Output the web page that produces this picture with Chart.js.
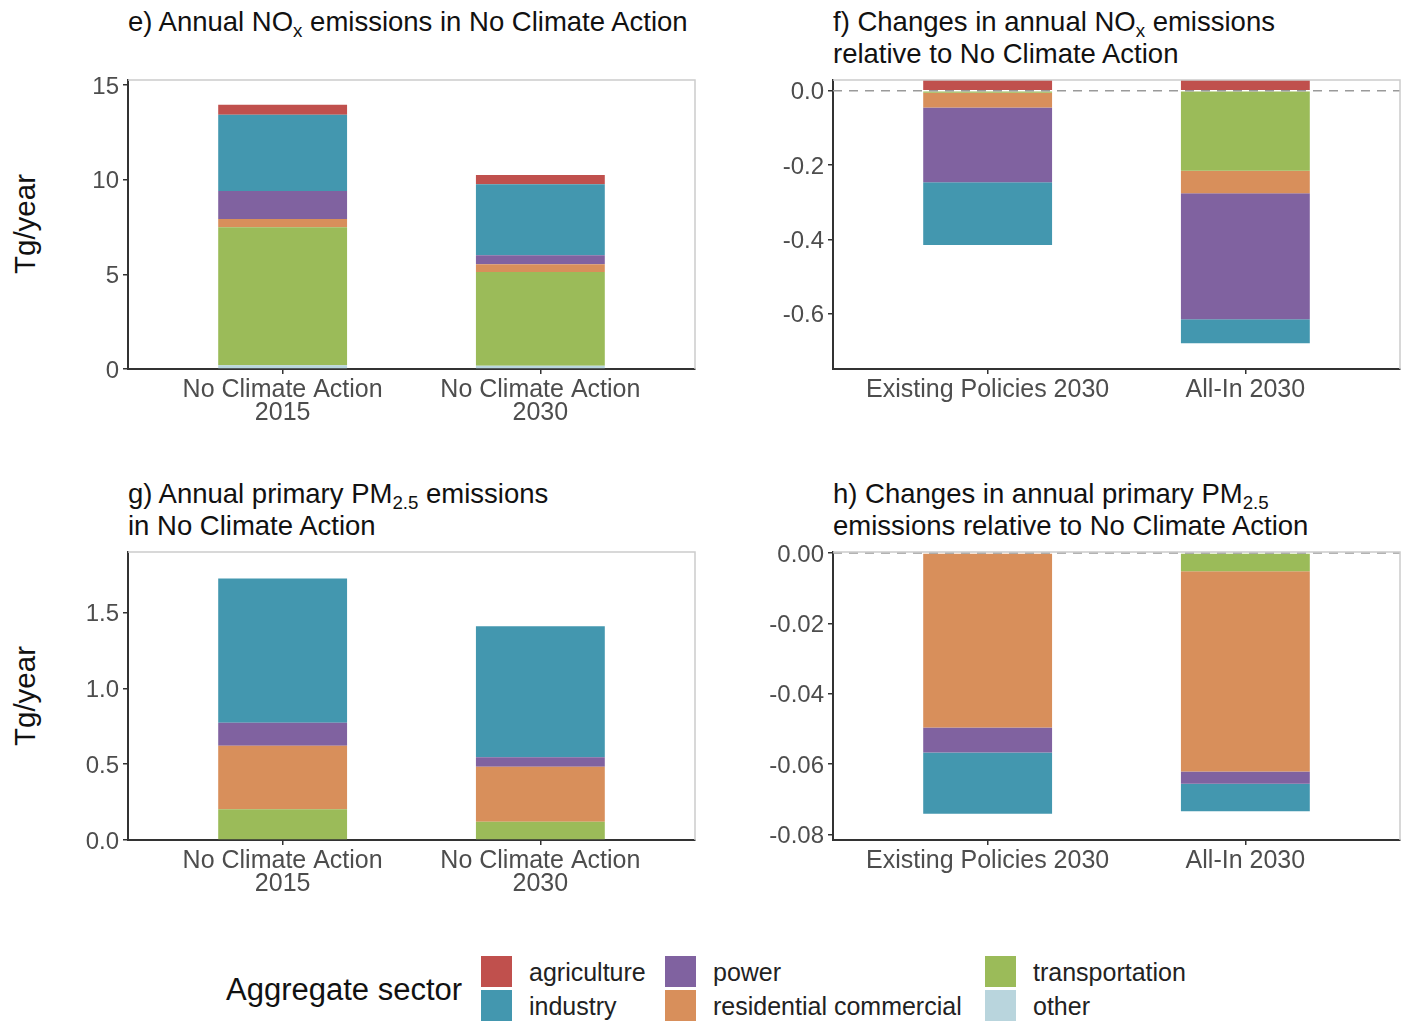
<!DOCTYPE html>
<html>
<head>
<meta charset="utf-8">
<script src="https://cdn.jsdelivr.net/npm/chart.js@4.4.1/dist/chart.umd.min.js"></script>
<style>
  body { margin: 0; background: #fff; font-family: "Liberation Sans", Arial, sans-serif; }
  #page { position: relative; width: 1405px; height: 1021px; overflow: hidden; background: #fff; }
  #page canvas { position: absolute; }
  .title { position: absolute; font-size: 27.5px; line-height: 32px; color: #111; white-space: nowrap; }
  .title sub { font-size: 0.68em; vertical-align: -0.3em; line-height: 0; }
  .ylab { position: absolute; font-size: 29.5px; color: #111; white-space: nowrap;
          transform: translate(-50%, -50%) rotate(-90deg); }
  .ltitle { position: absolute; left: 226px; top: 990px; font-size: 31px; color: #111;
            transform: translateY(-50%); white-space: nowrap; }
  .lkey { position: absolute; width: 31px; height: 31px; }
  .llab { position: absolute; font-size: 25px; color: #222; transform: translateY(-50%); white-space: nowrap; }
</style>
</head>
<body>
<div id="page">
  <div class="title" style="left:128px; top:6px;">e) Annual NO<sub>x</sub> emissions in No Climate Action</div>
  <div class="title" style="left:833px; top:6px;">f) Changes in annual NO<sub>x</sub> emissions<br>relative to No Climate Action</div>
  <div class="title" style="left:128px; top:478px;">g) Annual primary PM<sub>2.5</sub> emissions<br>in No Climate Action</div>
  <div class="title" style="left:833px; top:478px;">h) Changes in annual primary PM<sub>2.5</sub><br>emissions relative to No Climate Action</div>
  <div class="ylab" style="left:25px; top:224px;">Tg/year</div>
  <div class="ylab" style="left:25px; top:696px;">Tg/year</div>

  <canvas id="noxLevel" width="645" height="370" style="left:60px; top:70px;"></canvas>
  <canvas id="noxChange" width="645" height="370" style="left:765px; top:70px;"></canvas>
  <canvas id="pmLevel" width="645" height="370" style="left:60px; top:542px;"></canvas>
  <canvas id="pmChange" width="645" height="370" style="left:765px; top:542px;"></canvas>

  <div class="ltitle">Aggregate sector</div>
  <div id="legend"></div>
</div>

<script>
const sectors = ['agriculture', 'industry', 'power', 'residential commercial', 'transportation', 'other'];
const sectorColors = ['#c0504d', '#4397af', '#8062a0', '#d88f5b', '#9bbb59', '#b9d5dd'];

const levelScenarios = [['No Climate Action', '2015'], ['No Climate Action', '2030']];
const changeScenarios = ['Existing Policies 2030', 'All-In 2030'];

// values per bar, in sector order (Tg/year)
const noxLevel2015 = [0.53, 4.02, 1.48, 0.44, 7.28, 0.20];
const noxLevel2030 = [0.49, 3.76, 0.47, 0.41, 4.95, 0.17];
const noxChangeExisting = [0.029, -0.169, -0.201, -0.040, -0.005, 0];
const noxChangeAllIn = [0.029, -0.065, -0.339, -0.061, -0.215, 0];
const pmLevel2015 = [0, 0.951, 0.152, 0.419, 0.202, 0];
const pmLevel2030 = [0, 0.865, 0.062, 0.362, 0.121, 0];
const pmChangeExisting = [0, -0.0174, -0.0071, -0.0496, 0, 0];
const pmChangeAllIn = [0, -0.0078, -0.0035, -0.0569, -0.0052, 0];

const noxLevelTicks = [0, 5, 10, 15];
const noxChangeTicks = [0, -0.2, -0.4, -0.6];
const pmLevelTicks = [0, 0.5, 1.0, 1.5];
const pmChangeTicks = [0, -0.02, -0.04, -0.06, -0.08];

const axisColor = '#333333';
const tickText = '#4d4d4d';

// light frame on top/right plus the dashed zero reference
const panelFrame = {
  id: 'panelFrame',
  afterDatasetsDraw(chart, args, opts) {
    const { ctx, chartArea: a } = chart;
    ctx.save();
    if (opts.zeroLine) {
      const y0 = chart.scales.y.getPixelForValue(0);
      ctx.strokeStyle = '#9a9a9a';
      ctx.lineWidth = 1.5;
      ctx.setLineDash([9, 7]);
      ctx.beginPath();
      ctx.moveTo(a.left, y0);
      ctx.lineTo(a.right, y0);
      ctx.stroke();
      ctx.setLineDash([]);
    }
    ctx.strokeStyle = '#cccccc';
    ctx.lineWidth = 1.5;
    ctx.beginPath();
    ctx.moveTo(a.left, a.top);
    ctx.lineTo(a.right, a.top);
    ctx.lineTo(a.right, a.bottom);
    ctx.stroke();
    ctx.restore();
  }
};

function stackedPanel(id, scenarios, bars, yTicks, yMin, yMax, digits, zeroLine, xHeight) {
  // 'other' goes first so it sits next to zero, agriculture ends up outermost
  const order = sectors.map((s, i) => i).reverse();
  const datasets = order.map(i => ({
    label: sectors[i],
    data: bars.map((bar, j) => ({ x: j + 1, y: bar[i] })),
    backgroundColor: sectorColors[i],
    borderWidth: 0,
    categoryPercentage: 1,
    barPercentage: 0.5
  }));

  return new Chart(document.getElementById(id), {
    type: 'bar',
    data: { datasets },
    options: {
      responsive: false,
      animation: false,
      devicePixelRatio: 1,
      layout: { padding: { top: 10, right: 10, left: 0, bottom: 0 } },
      plugins: {
        legend: { display: false },
        tooltip: { enabled: false },
        panelFrame: { zeroLine }
      },
      scales: {
        x: {
          type: 'linear',
          offset: false,
          stacked: true,
          min: 0.4,
          max: 2.6,
          afterBuildTicks: s => { s.ticks = scenarios.map((_, j) => ({ value: j + 1 })); },
          afterFit: s => { s.height = xHeight; s.paddingLeft = 0; s.paddingRight = 0; },
          ticks: {
            callback: v => scenarios[v - 1],
            color: tickText,
            font: { size: 25, lineHeight: 0.92 },
            padding: 5,
            maxRotation: 0,
            autoSkip: false
          },
          grid: { offset: false, drawOnChartArea: false, tickLength: 5, color: axisColor, lineWidth: 1.5 },
          border: { color: axisColor, width: 2 }
        },
        y: {
          stacked: true,
          min: yMin,
          max: yMax,
          afterBuildTicks: s => { s.ticks = yTicks.map(v => ({ value: v })); },
          afterFit: s => { s.width = 68; s.paddingTop = 0; s.paddingBottom = 0; },
          ticks: {
            callback: v => v.toFixed(digits),
            color: tickText,
            font: { size: 24 },
            padding: 4,
            labelOffset: 2,
            autoSkip: false
          },
          grid: { drawOnChartArea: false, tickLength: 5, color: axisColor, lineWidth: 1.5 },
          border: { color: axisColor, width: 2 }
        }
      }
    },
    plugins: [panelFrame]
  });
}

Chart.defaults.font.family = '"Liberation Sans", Arial, sans-serif';

stackedPanel('noxLevel', levelScenarios, [noxLevel2015, noxLevel2030], noxLevelTicks, 0, 15.26, 0, false, 71);
stackedPanel('noxChange', changeScenarios, [noxChangeExisting, noxChangeAllIn], noxChangeTicks, -0.749, 0.029, 1, true, 71);
stackedPanel('pmLevel', levelScenarios, [pmLevel2015, pmLevel2030], pmLevelTicks, 0, 1.899, 1, false, 72);
stackedPanel('pmChange', changeScenarios, [pmChangeExisting, pmChangeAllIn], pmChangeTicks, -0.0816, 0.0003, 2, true, 72);

// legend: two rows, filled column by column
const legendCols = [481, 665, 985];
const legend = document.getElementById('legend');
sectors.forEach((name, i) => {
  const col = Math.floor(i / 2), row = i % 2;
  const key = document.createElement('div');
  key.className = 'lkey';
  key.style.left = legendCols[col] + 'px';
  key.style.top = (956 + row * 34) + 'px';
  key.style.background = sectorColors[i];
  legend.appendChild(key);
  const lab = document.createElement('div');
  lab.className = 'llab';
  lab.style.left = (legendCols[col] + 48) + 'px';
  lab.style.top = (972 + row * 34) + 'px';
  lab.textContent = name;
  legend.appendChild(lab);
});
</script>
</body>
</html>
